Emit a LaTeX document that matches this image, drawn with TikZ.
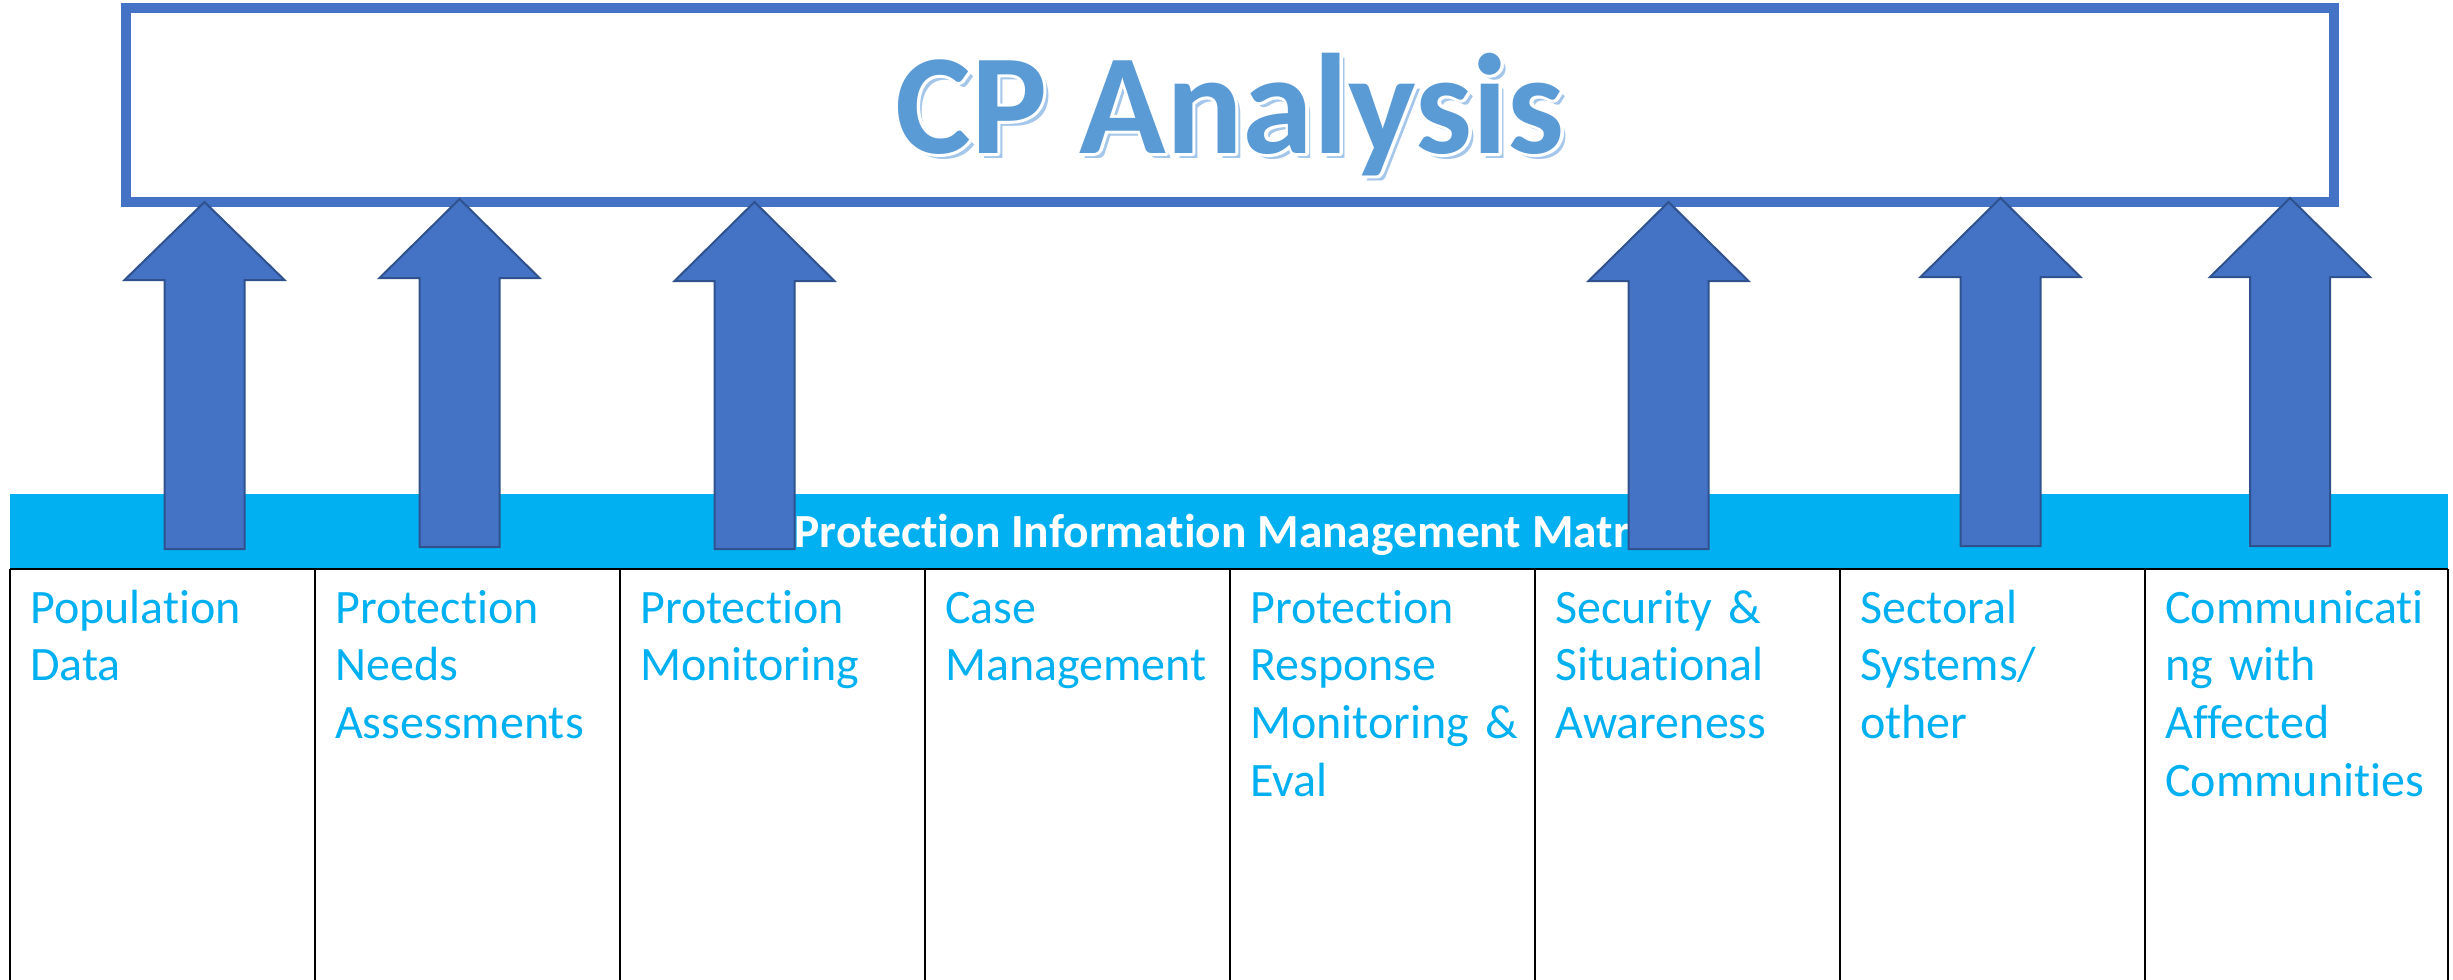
\documentclass[tikz,border=0pt]{standalone}
\usepackage{fontspec}
\setmainfont{Carlito}[Ligatures=NoCommon]
\definecolor{arrowfill}{HTML}{4472C4}
\definecolor{arrowline}{HTML}{2F528F}
\definecolor{titleblue}{HTML}{5B9BD5}
\definecolor{titleshadow}{HTML}{A4C6EA}
\definecolor{bandcyan}{HTML}{00B0F0}
\newcommand{\strokedtext}[1]{\special{pdf:code q 1 1 1 RG 1 Tr 6 w 1 j}#1\special{pdf:code Q}}
\newcommand{\blkarrow}[5]{% name, center x, tip y, base y, bottom y
  \coordinate (#1tip) at (#2,#3);
  \coordinate (#1foot) at (#2,#5);
  \draw[blockarrow] (#1tip) -- (#2+80,#4) -- (#2+40,#4) -- (#2+40,#5) -- (#2-40,#5) -- (#2-40,#4) -- (#2-80,#4) -- cycle;}
\begin{document}
\begin{tikzpicture}[x=1pt,y=-1pt,
  titlebox/.style={draw=arrowfill, line width=10pt, fill=white, minimum width=2208pt, minimum height=194pt, inner sep=0pt},
  titletext/.style={font=\fontsize{143}{143}\selectfont\bfseries, inner sep=0pt, anchor=base},
  blockarrow/.style={fill=arrowfill, draw=arrowline, line width=2pt, line join=miter},
  band/.style={fill=bandcyan, draw=none, minimum width=2438pt, minimum height=75pt, inner sep=0pt},
  bandtext/.style={font=\fontsize{47.5}{47.5}\selectfont\bfseries, text=white, inner sep=0pt, anchor=base},
  celltext/.style={font=\fontsize{48}{57.7}\selectfont, text=bandcyan, inner sep=0pt, anchor=base west, align=left, text width=284pt},
  gridline/.style={draw=black, line width=1.2pt}]
\useasboundingbox (0,0) rectangle (2453,980);
\fill[white] (0,0) rectangle (2453,980);
% title box
\node[titlebox] (title) at (1230,105) {};
\node[titletext, text=titleshadow] (tshadow) at (1235,158) {CP Analysis};
\node[titletext, text=white] (toutline) at (1230,153) {\strokedtext{CP Analysis}};
\node[titletext, text=titleblue] (ttext) at (1230,153) {CP Analysis};
% band
\node[band] (band) at (1229,531.5) {};
\node[bandtext] (bandlabel) at (1229,547) {Protection Information Management Matrix};
% table lines
\draw[gridline] (10,569) -- (2448,569);
\foreach \x [count=\i] in {10,315,620,925,1230,1535,1840,2145,2448}{
  \coordinate (ct\i) at (\x,569);
  \coordinate (cb\i) at (\x,980);
  \draw[gridline] (ct\i) -- (cb\i);
}
% cells
\node[celltext] (c1) at (30,623) {Population\\Data};
\node[celltext] (c2) at (335,623) {Protection\\Needs\\Assessments};
\node[celltext] (c3) at (640,623) {Protection\\Monitoring};
\node[celltext] (c4) at (945,623) {Case\\Management};
\node[celltext] (c5) at (1250,623) {Protection\\Response\\Monitoring \&\\Eval};
\node[celltext] (c6) at (1555,623) {Security \&\\Situational\\Awareness};
\node[celltext] (c7) at (1860,623) {Sectoral\\Systems/\\other};
\node[celltext] (c8) at (2165,623) {Communicati\\ng with\\Affected\\Communities};
% arrows
\blkarrow{a1}{204.5}{202}{280}{549}
\blkarrow{a2}{459.5}{199}{278}{547}
\blkarrow{a3}{754.5}{202}{281}{549}
\blkarrow{a4}{1668.5}{202}{281}{549}
\blkarrow{a5}{2000.5}{198}{277}{546}
\blkarrow{a6}{2290}{198}{277}{546}
\end{tikzpicture}
\end{document}
